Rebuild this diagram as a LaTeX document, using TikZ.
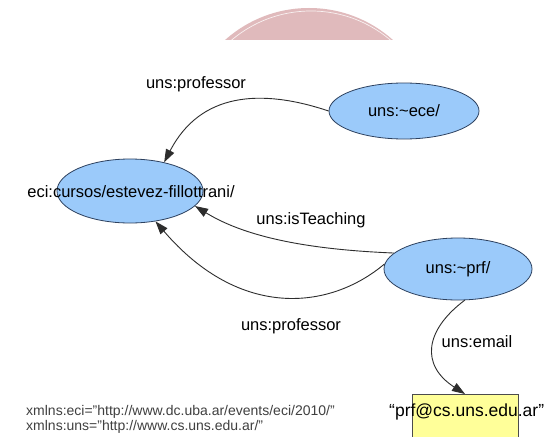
\documentclass[tikz,border=0pt]{standalone}
\usepackage{fontspec}
\setmainfont{Liberation Sans}
\usetikzlibrary{shapes.geometric,arrows.meta}
\definecolor{nodeblue}{RGB}{155,202,250}
\definecolor{nodeedge}{RGB}{45,65,95}
\definecolor{lityellow}{RGB}{255,255,153}
\definecolor{pinkarc}{RGB}{224,186,188}
\definecolor{linegray}{RGB}{45,45,45}
\begin{document}
\begin{tikzpicture}[x=1pt,y=-1pt,
  res/.style={ellipse, draw=nodeedge, fill=nodeblue, line width=0.8pt, inner sep=0pt,
    font=\fontsize{16.5}{18}\selectfont},
  lbl/.style={font=\fontsize{16.5}{18}\selectfont, inner sep=0pt},
  lit/.style={rectangle, draw=gray!60!black, fill=lityellow, line width=0.8pt, inner sep=0pt},
  rel/.style={draw=linegray, line width=0.9pt, -{Triangle[length=13pt,width=9pt]}},
  ns/.style={font=\fontsize{14}{16}\selectfont, text=black!75, anchor=west, inner sep=0pt}]
\path[use as bounding box] (0,0) rectangle (545,436);
\fill[white] (0,0) rectangle (545,436);
% pink arc at top
\begin{scope}
  \clip (200,0) rectangle (420,40);
  \fill[pinkarc] (309,134) circle (126pt);
  \draw[white, line width=0.7pt, opacity=0.8] (311,134) circle (123pt);
\end{scope}
% nodes
\node[res, minimum width=150pt, minimum height=56pt] (ece) at (404,111) {uns:\textasciitilde ece/};
\node[res, minimum width=146pt, minimum height=64pt] (eci) at (130,191) {};
\node[lbl] (ecit) at (131,192) {eci:cursos/estevez-fillottrani/};
\node[res, minimum width=148pt, minimum height=62pt] (prf) at (458,269) {uns:\textasciitilde prf/};
\node[lit, minimum width=106pt, minimum height=60pt, anchor=north] (mail) at (465,394) {};
\node[font=\fontsize{17.5}{19}\selectfont, inner sep=0pt, anchor=west] (mailt) at (389,412) {“prf@cs.uns.edu.ar”};
% edges
\draw[rel] (ece.west) .. controls (260,88) and (200,93) .. (eci.40);
\draw[rel] (prf.166) .. controls (320,250) and (250,240) .. (eci.-13);
\draw[rel] (prf.176) .. controls (330,310) and (240,320) .. (eci.-50);
\draw[rel] (prf.-78) .. controls (425,330) and (420,365) .. (mail.north);
% edge labels
\node[lbl] (l1) at (196,84) {uns:professor};
\node[lbl] (l2) at (311,220) {uns:isTeaching};
\node[lbl] (l3) at (291,326) {uns:professor};
\node[lbl] (l4) at (477,342) {uns:email};
% namespaces
\node[ns] (ns1) at (26,412) {xmlns:eci="http://www.dc.uba.ar/events/eci/2010/"};
\node[ns] (ns2) at (26,427) {xmlns:uns="http://www.cs.uns.edu.ar/"};
\end{tikzpicture}
\end{document}
